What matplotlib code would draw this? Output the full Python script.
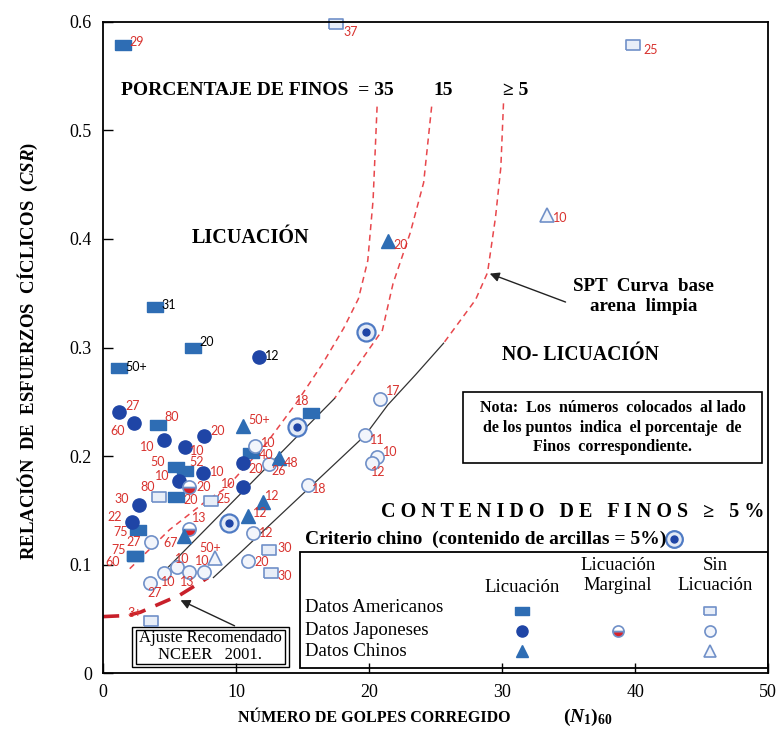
import matplotlib
matplotlib.use("Agg")
import matplotlib.pyplot as plt
from matplotlib.patches import Rectangle

plt.rcParams['font.family'] = ['Liberation Serif', 'DejaVu Serif']
plt.rcParams['mathtext.fontset'] = 'custom'
plt.rcParams['mathtext.rm'] = 'Liberation Serif:bold'
plt.rcParams['mathtext.it'] = 'Liberation Serif:italic:bold'
plt.rcParams['mathtext.bf'] = 'Liberation Serif:bold'

# ---- data: (N1)60, CSR and fines content labels ----
am_liq_n = [1.5, 3.9, 6.8, 1.2, 4.1, 5.5, 6.2, 5.5, 2.6, 2.4, 2.4, 11.1, 15.6]
am_liq_csr = [0.579, 0.337, 0.300, 0.281, 0.229, 0.190, 0.186, 0.162, 0.132, 0.108, 0.108, 0.203, 0.240]
am_liq_fc = ["29", "31", "20", "50+", "80", "50", "52", "20", "75", "75", "60", "40", "18"]

am_nl_n = [17.5, 39.8, 4.2, 8.1, 12.5, 12.6, 3.6]
am_nl_csr = [0.598, 0.579, 0.162, 0.159, 0.113, 0.092, 0.048]
am_nl_fc = ["37", "25", "80", "25", "30", "30", "3+"]

jp_liq_n = [1.2, 2.3, 11.7, 4.6, 6.2, 7.6, 7.5, 5.7, 2.7, 2.2, 10.5, 10.5]
jp_liq_csr = [0.241, 0.230, 0.291, 0.215, 0.208, 0.218, 0.184, 0.177, 0.155, 0.139, 0.194, 0.171]
jp_liq_fc = ["27", "60", "12", "10", "10", "20", "10", "10", "30", "22", "20", "10"]

jp_marg_n = [6.5, 6.5]
jp_marg_csr = [0.171, 0.133]
jp_marg_fc = ["20", "13"]

jp_nl_n = [11.4, 12.5, 15.4, 11.3, 10.9, 20.8, 19.7, 20.6, 20.2, 3.6, 4.6, 5.6, 6.5, 7.6, 3.5]
jp_nl_csr = [0.209, 0.193, 0.173, 0.129, 0.103, 0.253, 0.219, 0.199, 0.194, 0.121, 0.092, 0.098, 0.093, 0.093, 0.083]
jp_nl_fc = ["10", "26", "18", "12", "20", "17", "11", "10", "12", "27", "10", "10", "13", "10", "27"]

cn_liq_n = [21.4, 10.5, 13.2, 12.0, 10.9, 6.1]
cn_liq_csr = [0.398, 0.228, 0.198, 0.158, 0.145, 0.126]
cn_liq_fc = ["20", "50+", "48", "12", "12", "67"]

cn_nl_n = [33.4, 8.4]
cn_nl_csr = [0.422, 0.106]
cn_nl_fc = ["10", "50+"]

crit_n = [14.6, 19.8, 9.5]
crit_csr = [0.227, 0.314, 0.138]

# boundary curves
fc35_n = [20.6, 20.3, 19.9, 19.2, 18.1, 16.5, 14.6, 12.3, 9.3, 7.8, 5.0, 2.0]
fc35_csr = [0.522, 0.436, 0.380, 0.345, 0.318, 0.285, 0.250, 0.212, 0.171, 0.159, 0.132, 0.096]
fc15_dash_n = [24.7, 24.1, 23.1, 21.8, 21.0, 17.4]
fc15_dash_csr = [0.522, 0.452, 0.406, 0.359, 0.316, 0.253]
fc15_solid_n = [17.4, 4.7]
fc15_solid_csr = [0.253, 0.095]
fc5_dash_n = [30.1, 29.9, 29.5, 28.9, 28.0, 26.8, 25.6]
fc5_dash_csr = [0.525, 0.466, 0.420, 0.369, 0.344, 0.324, 0.304]
fc5_solid_n = [25.6, 23.5, 21.4, 19.7, 10.5, 8.3]
fc5_solid_csr = [0.304, 0.275, 0.247, 0.219, 0.113, 0.088]
nceer_n = [0.0, 1.8, 2.8, 5.8, 7.9]
nceer_csr = [0.052, 0.053, 0.056, 0.072, 0.088]

# label offsets in pixels (dx, dy)
am_liq_off = [(14, 3), (14, 2), (13, 6), (17, 1), (14, 8), (-19, 5), (11, 9), (15, -3),
              (-17, -2), (-16, 6), (-22, -6), (15, -2), (-8, 12)]
am_nl_off = [(15, -8), (18, -5), (-11, 10), (13, 2), (15, 2), (14, -3), (-16, 8)]
jp_liq_off = [(14, 6), (-16, -8), (14, 1), (-17, -7), (12, -4), (14, 5), (14, 1), (-17, 5),
              (-17, 6), (-18, 5), (13, -6), (-14, 3)]
jp_marg_off = [(14, 0), (10, 11)]
jp_nl_off = [(14, 3), (9, -7), (11, -4), (13, 0), (14, -1), (13, 8), (12, -5), (13, 5), (6, -9),
             (-17, 0), (4, -9), (5, 8), (-2, -10), (-2, 11), (5, -10)]
cn_liq_off = [(13, -4), (16, 6), (12, -5), (10, 6), (12, 3), (-14, -7)]
cn_nl_off = [(13, -3), (-5, 10)]

RED = '#D8322E'
BLUE = '#2E6DB4'
DBLUE = '#1F45A6'
HOLLOW = '#7090C8'
rect = [(-1, -0.62), (1, -0.62), (1, 0.62), (-1, 0.62), (-1, -0.62)]

fig = plt.figure(figsize=(7.8, 7.4), dpi=100)
ax = fig.add_axes([0.132, 0.0905, 0.853, 0.8798])
ax.set_xlim(0, 50)
ax.set_ylim(0, 0.6)

# curves
dash_kw = dict(color='#E8474C', lw=1.1, dashes=(4, 3))
ax.plot(fc35_n, fc35_csr, **dash_kw)
ax.plot(fc15_dash_n, fc15_dash_csr, **dash_kw)
ax.plot(fc5_dash_n, fc5_dash_csr, **dash_kw)
ax.plot(fc15_solid_n, fc15_solid_csr, color='#333333', lw=0.9)
ax.plot(fc5_solid_n, fc5_solid_csr, color='#333333', lw=0.9)
ax.plot(nceer_n, nceer_csr, color='#C8202A', lw=2.6, dashes=(4.5, 3))


def labels(xs, ys, texts, offs, black=(), size=9):
    for i, (x, y, t) in enumerate(zip(xs, ys, texts)):
        ax.annotate(t, (x, y), xytext=offs[i], textcoords='offset pixels',
                    ha='center', va='center', fontsize=size, family='Lato',
                    color='black' if i in black else RED)


# markers
ax.plot(am_liq_n, am_liq_csr, ls='none', marker=rect, ms=11, mfc=BLUE, mec=BLUE)
ax.plot(am_nl_n, am_nl_csr, ls='none', marker=rect, ms=10.5, mfc='#E8EEF8', mec=HOLLOW,
        mew=1.2, clip_on=False)
ax.plot(jp_liq_n, jp_liq_csr, ls='none', marker='o', ms=9.5, mfc=DBLUE, mec=DBLUE)
ax.plot(jp_marg_n, jp_marg_csr, ls='none', marker='o', ms=9.5, fillstyle='bottom',
        mfc='#D9222A', mfcalt='white', mec=HOLLOW, mew=1.2)
ax.plot(jp_nl_n, jp_nl_csr, ls='none', marker='o', ms=9.5, mfc='#F2F5FB', mec=HOLLOW, mew=1.2)
ax.plot(cn_liq_n, cn_liq_csr, ls='none', marker='^', ms=10, mfc=BLUE, mec=BLUE)
ax.plot(cn_nl_n, cn_nl_csr, ls='none', marker='^', ms=10, mfc='#F2F5FB', mec=HOLLOW, mew=1.2)
ax.plot(crit_n, crit_csr, ls='none', marker='o', ms=13, mfc='#E3EAF6', mec='#4F7BC4', mew=1.6)
ax.plot(crit_n, crit_csr, ls='none', marker='o', ms=5, mfc=DBLUE, mec=DBLUE)

labels(am_liq_n, am_liq_csr, am_liq_fc, am_liq_off, black=(1, 2, 3))
labels(am_nl_n, am_nl_csr, am_nl_fc, am_nl_off)
labels(jp_liq_n, jp_liq_csr, jp_liq_fc, jp_liq_off, black=(2,))
labels(jp_marg_n, jp_marg_csr, jp_marg_fc, jp_marg_off)
labels(jp_nl_n, jp_nl_csr, jp_nl_fc, jp_nl_off)
labels(cn_liq_n, cn_liq_csr, cn_liq_fc, cn_liq_off)
labels(cn_nl_n, cn_nl_csr, cn_nl_fc, cn_nl_off)

# region texts
bold = dict(fontweight='bold', color='black')
ax.text(1.35, 0.537, "PORCENTAJE DE FINOS  = 35", fontsize=14, va='center', **bold)
ax.text(25.6, 0.537, "15", fontsize=14, ha='center', va='center', **bold)
ax.text(31.0, 0.537, "\u2265 5", fontsize=14, ha='center', va='center', **bold)
ax.text(11.05, 0.401, "LICUACIÓN", fontsize=14.5, ha='center', va='center', **bold)
ax.text(35.9, 0.293, "NO- LICUACIÓN", fontsize=14.2, ha='center', va='center', **bold)
ax.text(40.6, 0.347, "SPT  Curva  base\narena  limpia", fontsize=13.7, ha='center',
        va='center', linespacing=1.2, **bold)
ax.annotate("", xy=(28.87, 0.369), xytext=(34.96, 0.341),
            arrowprops=dict(arrowstyle='-|>', color='#222222', lw=1, mutation_scale=14))

ax.add_patch(Rectangle((27.07, 0.1935), 22.48, 0.0655, fill=False, ec='black', lw=1.2))
ax.text(38.3, 0.226, "Nota:  Los  números  colocados  al lado\nde los puntos  indica  el porcentaje  de\n"
        "Finos  correspondiente.", fontsize=11.5, ha='center', va='center',
        linespacing=1.3, **bold)

ax.text(35.3, 0.148, "C O N T E N I D O   D E   F I N O S   \u2265   5 %", fontsize=14.5,
        ha='center', va='center', **bold)
ax.text(15.2, 0.1235, "Criterio chino  (contenido de arcillas = 5%)", fontsize=14,
        va='center', **bold)

# legend box
ax.add_patch(Rectangle((14.8, 0.0046), 35.2, 0.107, fill=False, ec='black', lw=1.3))
lg = dict(fontsize=13.5, color='black')
ax.text(31.5, 0.079, "Licuación", ha='center', va='center', **lg)
ax.text(38.7, 0.090, "Licuación\nMarginal", ha='center', va='center', linespacing=1.2, **lg)
ax.text(46.0, 0.090, "Sin\nLicuación", ha='center', va='center', linespacing=1.2, **lg)
for yy, name in zip([0.060, 0.0396, 0.0203], ["Datos Americanos", "Datos Japoneses", "Datos Chinos"]):
    ax.text(15.2, yy, name, va='center', **lg)

leg_x = [31.5, 38.7, 45.6]
leg_y = [0.057, 0.0387, 0.0203]
ax.plot(leg_x[0], leg_y[0], marker=rect, ms=10, mfc=BLUE, mec=BLUE)
ax.plot(leg_x[2], leg_y[0], marker=rect, ms=9, mfc='#E8EEF8', mec=HOLLOW, mew=1.2)
ax.plot(leg_x[0], leg_y[1], marker='o', ms=8, mfc=DBLUE, mec=DBLUE)
ax.plot(leg_x[1], leg_y[1], marker='o', ms=8, fillstyle='bottom', mfc='#D9222A',
        mfcalt='white', mec=HOLLOW, mew=1.2)
ax.plot(leg_x[2], leg_y[1], marker='o', ms=8, mfc='#F2F5FB', mec=HOLLOW, mew=1.2)
ax.plot(leg_x[0], leg_y[2], marker='^', ms=8, mfc=BLUE, mec=BLUE)
ax.plot(leg_x[2], leg_y[2], marker='^', ms=8, mfc='#F2F5FB', mec=HOLLOW, mew=1.2)
ax.plot(42.9, 0.1235, marker='o', ms=12, mfc='#E3EAF6', mec='#4F7BC4', mew=1.6)
ax.plot(42.9, 0.1235, marker='o', ms=5, mfc=DBLUE, mec=DBLUE)

# NCEER box (double frame)
ax.add_patch(Rectangle((2.18, 0.0055), 11.8, 0.0369, fill=False, ec='black', lw=1.0))
ax.add_patch(Rectangle((2.45, 0.0083), 11.26, 0.0313, fill=False, ec='black', lw=1.0))
ax.text(8.05, 0.0245, "Ajuste Recomendado\nNCEER   2001.", fontsize=12, ha='center',
        va='center', linespacing=1.15, color='black')
ax.annotate("", xy=(5.64, 0.0682), xytext=(10.08, 0.0424),
            arrowprops=dict(arrowstyle='-|>', color='#222222', lw=1, mutation_scale=14))

# axes styling
for s in ax.spines.values():
    s.set_linewidth(1.3)
ax.set_xticks([0, 10, 20, 30, 40, 50])
ax.set_xticklabels(["0", "10", "20", "30", "40", "50"])
ax.set_yticks([0, 0.1, 0.2, 0.3, 0.4, 0.5, 0.6])
ax.set_yticklabels(["0", "0.1", "0.2", "0.3", "0.4", "0.5", "0.6"])
ax.tick_params(direction='in', length=7, width=1, labelsize=13, pad=8)

fig.text(0.036, 0.525, "RELACIÓN  DE  ESFUERZOS  CÍCLICOS  $\\mathit{(CSR)}$", rotation=90,
         ha='center', va='center', fontsize=13.5, fontweight='bold')
fig.text(0.48, 0.03, "NÚMERO DE GOLPES CORREGIDO", ha='center', va='center',
         fontsize=11.5, fontweight='bold')
fig.text(0.754, 0.03, "$\\mathit{(N_1)_{60}}$", ha='center', va='center', fontsize=14)

fig.savefig("out.png", dpi=100)
